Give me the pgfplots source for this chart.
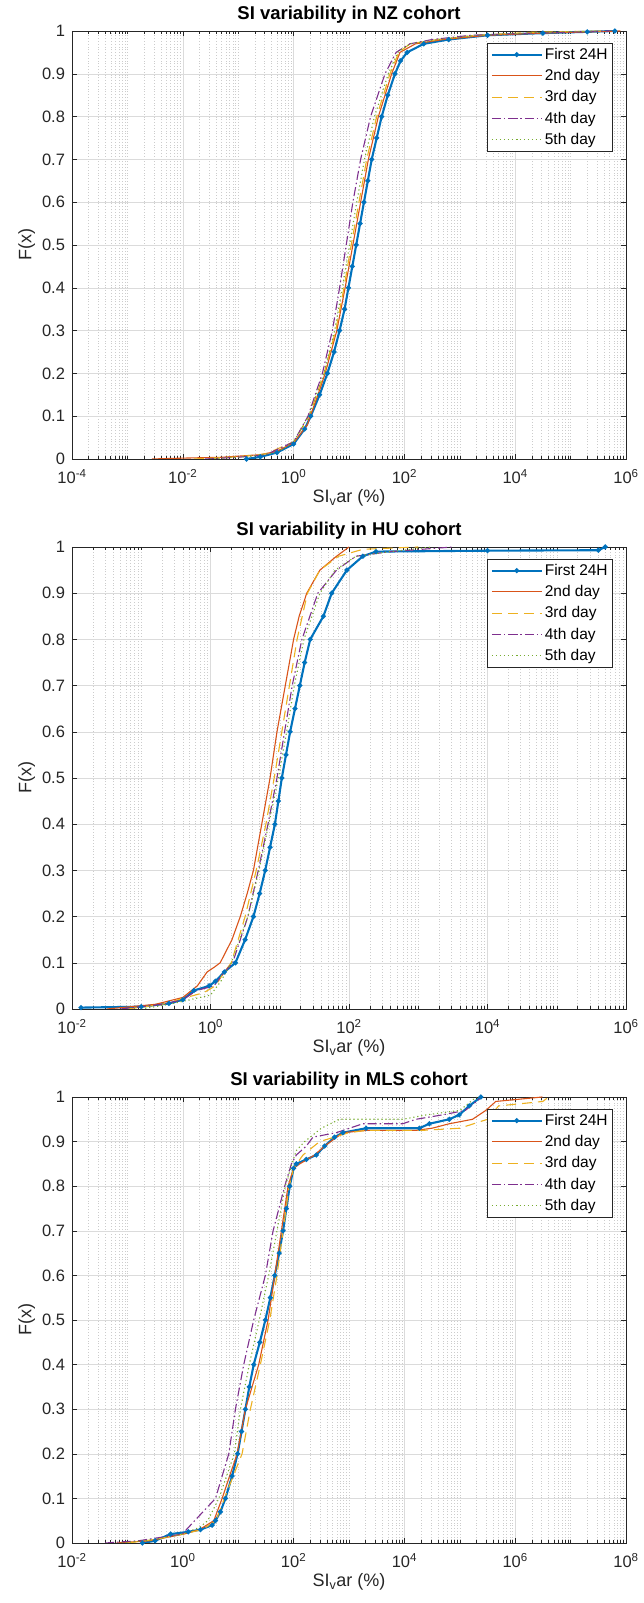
\documentclass[border=0pt]{standalone}
\usepackage{fontspec}
\setmainfont{Liberation Sans}
\usepackage{pgfplots}
\pgfplotsset{compat=1.18}
\definecolor{mblue}{rgb}{0,0.447,0.741}
\definecolor{morange}{rgb}{0.850,0.325,0.098}
\definecolor{myellow}{rgb}{0.929,0.694,0.125}
\definecolor{mpurple}{rgb}{0.494,0.184,0.556}
\definecolor{mgreen}{rgb}{0.466,0.674,0.188}
\definecolor{axgray}{rgb}{0.15,0.15,0.15}
\def\dec#1{2e#1,3e#1,4e#1,5e#1,6e#1,7e#1,8e#1,9e#1}
\edef\minorA{\dec{-4},1e-3,\dec{-3},\dec{-2},1e-1,\dec{-1},\dec{0},1e1,\dec{1},\dec{2},1e3,\dec{3},\dec{4},1e5,\dec{5}}
\edef\minorB{\dec{-2},1e-1,\dec{-1},\dec{0},1e1,\dec{1},\dec{2},1e3,\dec{3},\dec{4},1e5,\dec{5}}
\edef\minorC{\dec{-2},1e-1,\dec{-1},\dec{0},1e1,\dec{1},\dec{2},1e3,\dec{3},\dec{4},1e5,\dec{5},\dec{6},1e7,\dec{7}}
\pgfplotsset{
  mat/.style={
    scale only axis, width=554pt, ymin=0, ymax=1,
    ytick={0,0.1,0.2,0.3,0.4,0.5,0.6,0.7,0.8,0.9,1},
    yticklabels={0,0.1,0.2,0.3,0.4,0.5,0.6,0.7,0.8,0.9,1},
    xmajorgrids, xminorgrids, ymajorgrids,
    major grid style={draw=black!14, line width=0.5pt},
    minor grid style={draw=black!20, dash pattern=on 0.8pt off 2pt, line width=0.4pt},
    tick align=inside, major tick length=5pt, minor tick length=3pt,
    tick style={color=axgray, line width=0.5pt},
    axis line style={color=axgray, line width=0.6pt},
    ticklabel style={font=\fontsize{16.5}{18}\selectfont, color=axgray},
    yticklabel style={xshift=-3.5pt},
    xticklabel style={yshift=-7pt},
    label style={font=\fontsize{18}{20}\selectfont, color=axgray},
    xlabel style={yshift=1pt},
    title style={font=\bfseries\fontsize{18.5}{20}\selectfont, yshift=-2pt},
    xlabel={SI\textsubscript{v}ar (\%)}, ylabel={F(x)},
    legend cell align=left,
    legend style={at={(1,1)}, anchor=north east, xshift=-13pt, yshift=-12pt,
      draw=axgray, fill=white, text=black,
      font=\fontsize{15.5}{17}\selectfont, inner sep=3pt, row sep=4.5pt, line width=0.6pt},
    legend image code/.code={\draw[mark repeat=2,mark phase=2,##1] plot coordinates {(0pt,0pt) (25pt,0pt) (50pt,0pt)};},
  },
  s1/.style={color=mblue, line width=2.1pt, mark=*, mark size=1.3pt, mark options={solid}},
  s2/.style={color=morange, line width=1.1pt},
  s3/.style={color=myellow, line width=1.1pt, dash pattern=on 10pt off 6pt},
  s4/.style={color=mpurple, line width=1.1pt, dash pattern=on 9pt off 3pt on 1.5pt off 3pt},
  s5/.style={color=mgreen, line width=1.1pt, dash pattern=on 1.2pt off 2.8pt},
}
\begin{document}
\begin{tikzpicture}
\useasboundingbox (0,0) rectangle (643pt,1603pt);
% ---------------- NZ ----------------
\begin{semilogxaxis}[mat, at={(72pt,1144pt)}, anchor=south west, height=428pt,
  xmin=1e-4, xmax=1e6, xtick={1e-4,1e-2,1,1e2,1e4,1e6},
  minor xtick/.expanded={\minorA},
  xticklabels={10\textsuperscript{-4},10\textsuperscript{-2},10\textsuperscript{0},10\textsuperscript{2},10\textsuperscript{4},10\textsuperscript{6}},
  title={SI variability in NZ cohort}]
\addplot[s1] table[x expr={pow(10,\thisrow{lx})}, y=F] {
lx F
-0.85 0
-0.6 0.005
-0.3 0.015
0.0 0.035
0.2 0.07
0.31 0.10
0.47 0.15
0.61 0.20
0.73 0.25
0.83 0.30
0.92 0.35
0.99 0.40
1.06 0.45
1.13 0.50
1.20 0.55
1.27 0.60
1.34 0.65
1.41 0.70
1.50 0.75
1.59 0.80
1.70 0.85
1.83 0.90
1.93 0.93
2.05 0.95
2.35 0.97
2.8 0.98
3.5 0.99
4.5 0.995
5.3 0.998
5.8 1.0
};
\addplot[s2] table[x expr={pow(10,\thisrow{lx})}, y=F] {
lx F
-2.56 0
-2.0 0.002
-1.3 0.004
-0.6 0.01
-0.3 0.018
0.0 0.038
0.25 0.08
0.30 0.10
0.44 0.15
0.57 0.20
0.78 0.30
0.93 0.40
1.07 0.50
1.21 0.60
1.35 0.70
1.53 0.80
1.77 0.90
1.92 0.95
2.2 0.97
2.7 0.98
3.5 0.99
4.5 0.995
5.9 1.0
};
\addplot[s3] table[x expr={pow(10,\thisrow{lx})}, y=F] {
lx F
-1.8 0
-1.0 0.005
-0.5 0.012
0.0 0.04
0.28 0.10
0.55 0.20
0.76 0.30
0.91 0.40
1.04 0.50
1.18 0.60
1.32 0.70
1.50 0.80
1.74 0.90
1.90 0.95
2.1 0.97
2.6 0.98
3.3 0.99
4.3 0.997
5.6 1.0
};
\addplot[s4] table[x expr={pow(10,\thisrow{lx})}, y=F] {
lx F
-1.6 0
-1.0 0.004
-0.5 0.01
0.0 0.04
0.26 0.10
0.52 0.20
0.70 0.30
0.83 0.40
0.95 0.50
1.07 0.60
1.21 0.70
1.39 0.80
1.65 0.90
1.85 0.95
2.1 0.97
2.5 0.98
3.2 0.99
4.3 0.995
5.7 1.0
};
\addplot[s5] table[x expr={pow(10,\thisrow{lx})}, y=F] {
lx F
-1.5 0
-0.8 0.006
-0.3 0.015
0.0 0.04
0.27 0.10
0.55 0.20
0.74 0.30
0.88 0.40
1.01 0.50
1.14 0.60
1.28 0.70
1.46 0.80
1.71 0.90
1.88 0.95
2.1 0.97
2.6 0.98
3.3 0.99
4.5 0.997
5.5 1.0
};
\legend{First 24H,2nd day,3rd day,4th day,5th day}
\end{semilogxaxis}
% ---------------- HU ----------------
\begin{semilogxaxis}[mat, at={(72pt,594pt)}, anchor=south west, height=462pt,
  xmin=1e-2, xmax=1e6, xtick={1e-2,1,1e2,1e4,1e6},
  minor xtick/.expanded={\minorB},
  xticklabels={10\textsuperscript{-2},10\textsuperscript{0},10\textsuperscript{2},10\textsuperscript{4},10\textsuperscript{6}},
  title={SI variability in HU cohort}]
\addplot[s1] table[x expr={pow(10,\thisrow{lx})}, y=F] {
lx F
-1.87 0.003
-1.0 0.005
-0.6 0.012
-0.4 0.02
-0.24 0.04
-0.02 0.05
0.07 0.06
0.2 0.08
0.36 0.10
0.50 0.15
0.62 0.20
0.71 0.25
0.79 0.30
0.86 0.35
0.93 0.40
0.98 0.45
1.03 0.50
1.09 0.55
1.15 0.60
1.22 0.65
1.29 0.70
1.36 0.75
1.44 0.80
1.63 0.85
1.75 0.90
1.97 0.95
2.2 0.98
2.39 0.99
4.0 0.992
5.6 0.993
5.7 1.0
};
\addplot[s2] table[x expr={pow(10,\thisrow{lx})}, y=F] {
lx F
-1.5 0
-0.8 0.01
-0.4 0.025
-0.19 0.05
-0.05 0.08
0.05 0.09
0.14 0.10
0.31 0.15
0.43 0.20
0.53 0.25
0.62 0.30
0.68 0.35
0.74 0.40
0.80 0.45
0.86 0.50
0.91 0.55
0.96 0.60
1.02 0.65
1.08 0.70
1.14 0.75
1.20 0.80
1.28 0.85
1.39 0.90
1.58 0.95
1.82 0.98
2.0 1.0
};
\addplot[s3] table[x expr={pow(10,\thisrow{lx})}, y=F] {
lx F
-1.2 0
-0.7 0.01
-0.35 0.025
-0.1 0.035
0.07 0.05
0.2 0.08
0.30 0.10
0.50 0.20
0.66 0.30
0.80 0.40
0.92 0.50
1.03 0.60
1.14 0.70
1.25 0.80
1.40 0.90
1.58 0.95
1.85 0.98
2.2 0.995
3.0 1.0
};
\addplot[s4] table[x expr={pow(10,\thisrow{lx})}, y=F] {
lx F
-1.3 0
-0.7 0.01
-0.4 0.02
-0.2 0.04
0.05 0.05
0.2 0.08
0.32 0.10
0.54 0.20
0.69 0.30
0.83 0.40
0.96 0.50
1.07 0.60
1.18 0.70
1.32 0.80
1.55 0.90
1.82 0.95
2.1 0.98
2.6 0.99
3.5 1.0
};
\addplot[s5] table[x expr={pow(10,\thisrow{lx})}, y=F] {
lx F
-1.0 0
-0.6 0.01
-0.3 0.02
0.0 0.03
0.15 0.06
0.30 0.10
0.54 0.20
0.70 0.30
0.84 0.40
0.98 0.50
1.10 0.60
1.21 0.70
1.35 0.80
1.58 0.90
1.80 0.95
2.1 0.98
2.6 0.99
3.2 1.0
};
\legend{First 24H,2nd day,3rd day,4th day,5th day}
\end{semilogxaxis}
% ---------------- MLS ----------------
\begin{semilogxaxis}[mat, at={(72pt,60pt)}, anchor=south west, height=446pt,
  xmin=1e-2, xmax=1e8, xtick={1e-2,1,1e2,1e4,1e6,1e8},
  minor xtick/.expanded={\minorC},
  xticklabels={10\textsuperscript{-2},10\textsuperscript{0},10\textsuperscript{2},10\textsuperscript{4},10\textsuperscript{6},10\textsuperscript{8}},
  title={SI variability in MLS cohort}]
\addplot[s1] table[x expr={pow(10,\thisrow{lx})}, y=F] {
lx F
-0.73 0
-0.5 0.005
-0.22 0.02
0.1 0.025
0.32 0.03
0.53 0.04
0.59 0.05
0.68 0.07
0.77 0.10
0.89 0.15
0.99 0.20
1.06 0.25
1.13 0.30
1.20 0.35
1.28 0.40
1.39 0.45
1.49 0.50
1.58 0.55
1.66 0.60
1.74 0.65
1.81 0.70
1.87 0.75
1.93 0.80
2.0 0.84
2.05 0.85
2.23 0.86
2.41 0.87
2.56 0.89
2.74 0.91
2.89 0.92
3.31 0.93
4.27 0.93
4.45 0.94
4.81 0.95
4.99 0.96
5.17 0.98
5.38 1.0
};
\addplot[s2] table[x expr={pow(10,\thisrow{lx})}, y=F] {
lx F
-1.2 0
-0.6 0.005
0.02 0.02
0.3 0.03
0.56 0.05
0.71 0.10
0.98 0.20
1.13 0.30
1.37 0.40
1.54 0.50
1.66 0.60
1.78 0.70
1.90 0.80
2.0 0.84
2.11 0.85
2.38 0.87
2.56 0.89
2.89 0.92
3.31 0.925
4.2 0.925
4.5 0.93
4.81 0.94
5.23 0.95
5.47 0.97
5.65 0.99
6.49 1.0
};
\addplot[s3] table[x expr={pow(10,\thisrow{lx})}, y=F] {
lx F
-1.0 0
-0.5 0.008
0.0 0.02
0.35 0.03
0.6 0.05
0.75 0.10
1.07 0.20
1.22 0.30
1.40 0.40
1.57 0.50
1.70 0.60
1.81 0.70
1.92 0.80
2.0 0.84
2.17 0.87
2.47 0.90
3.0 0.92
3.3 0.925
4.3 0.925
5.0 0.93
5.5 0.95
5.7 0.98
6.5 0.99
6.6 1.0
};
\addplot[s4] table[x expr={pow(10,\thisrow{lx})}, y=F] {
lx F
-1.4 0
-0.8 0.005
-0.01 0.02
0.14 0.04
0.29 0.06
0.44 0.08
0.59 0.10
0.71 0.15
0.83 0.20
0.95 0.30
1.10 0.40
1.28 0.50
1.49 0.60
1.63 0.70
1.84 0.80
1.96 0.85
2.05 0.87
2.23 0.89
2.35 0.91
2.77 0.92
3.25 0.94
3.97 0.94
4.21 0.95
4.69 0.96
5.1 0.97
5.4 1.0
};
\addplot[s5] table[x expr={pow(10,\thisrow{lx})}, y=F] {
lx F
-1.1 0
-0.5 0.008
0.0 0.02
0.3 0.035
0.45 0.05
0.65 0.10
0.93 0.20
1.04 0.30
1.20 0.40
1.38 0.50
1.55 0.60
1.70 0.70
1.85 0.80
1.97 0.85
2.05 0.88
2.2 0.90
2.5 0.93
2.83 0.95
3.97 0.95
4.4 0.96
5.0 0.97
5.3 1.0
};
\legend{First 24H,2nd day,3rd day,4th day,5th day}
\end{semilogxaxis}
\end{tikzpicture}
\end{document}
